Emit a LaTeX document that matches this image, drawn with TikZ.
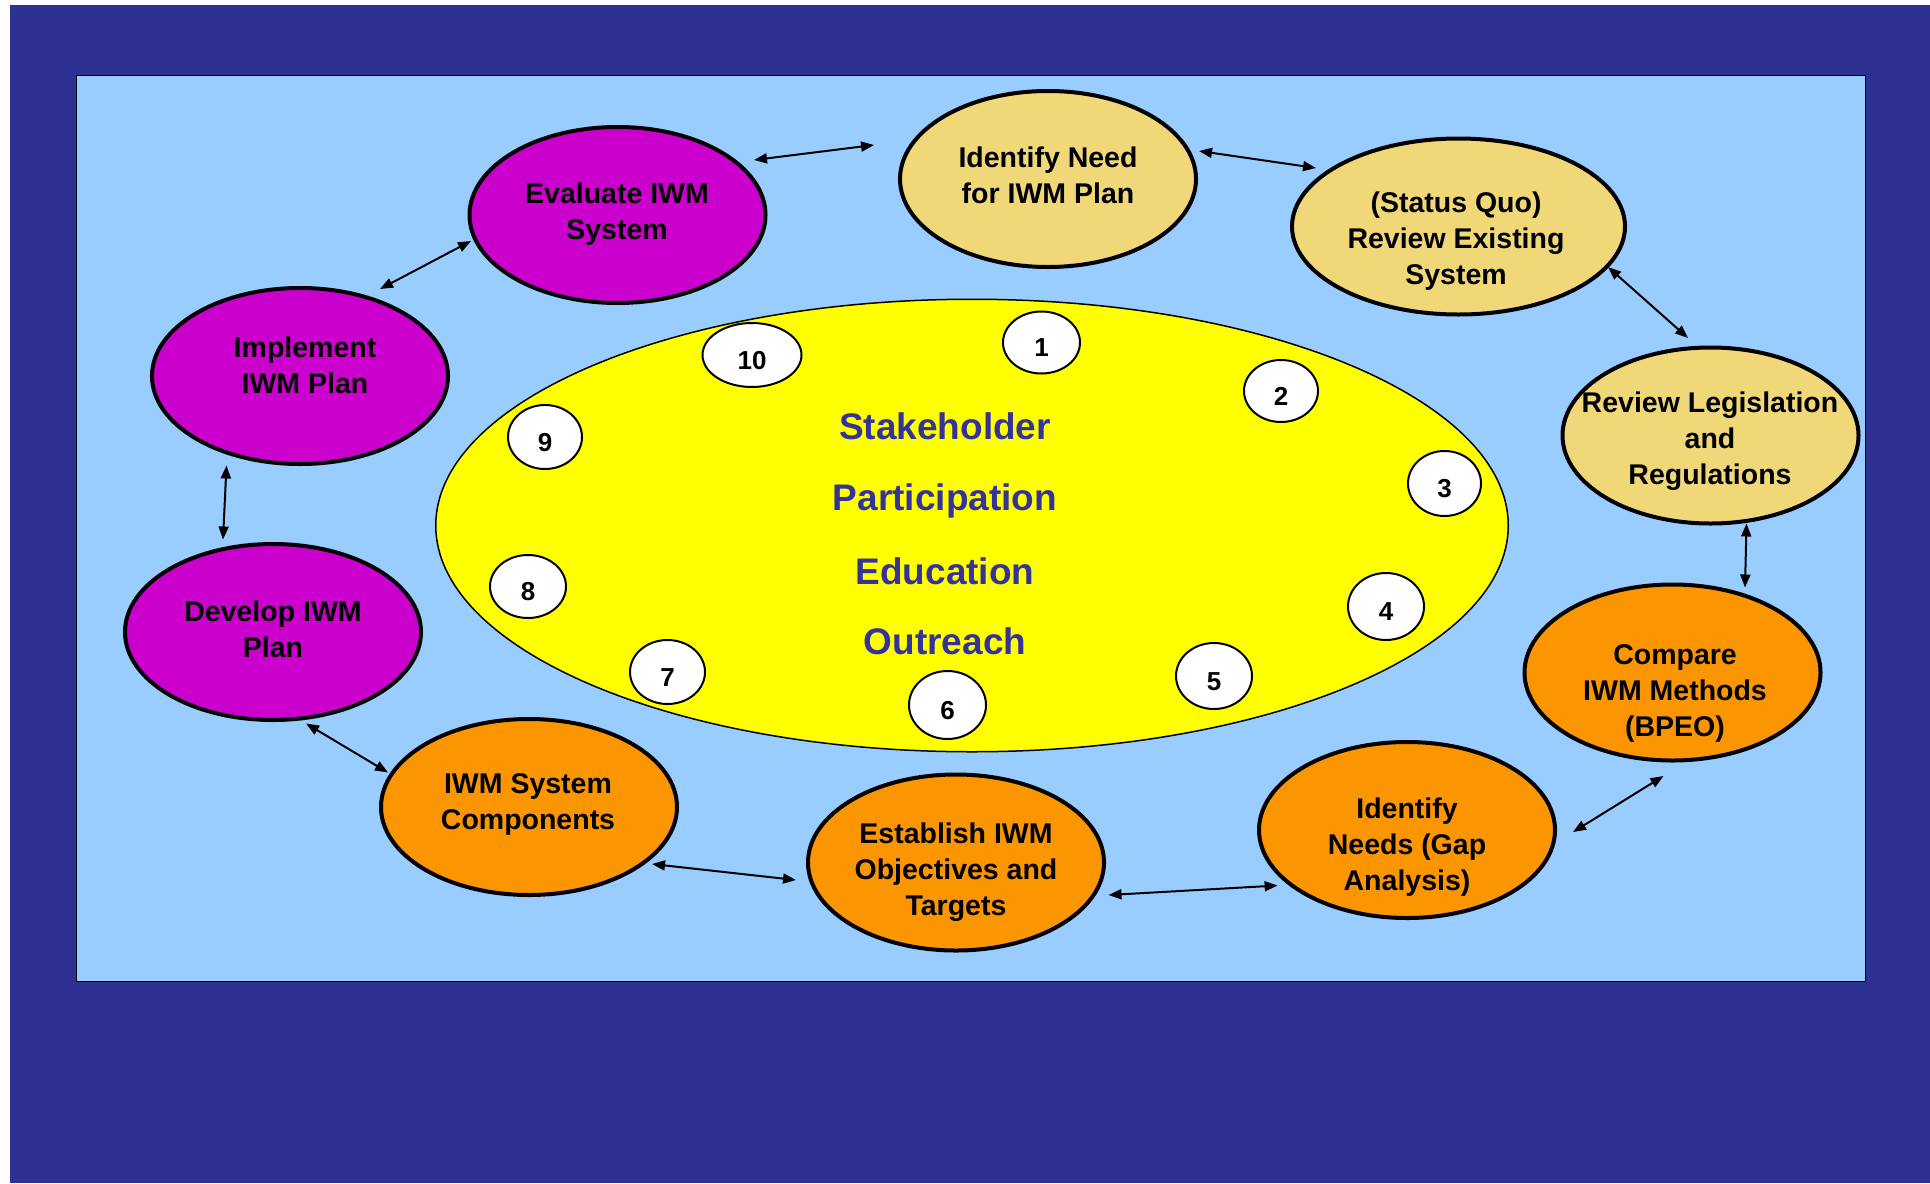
\documentclass[tikz,border=0pt]{standalone}
\usepackage{fontspec}
\setmainfont{Liberation Sans}
\usetikzlibrary{shapes.geometric,arrows.meta}
\definecolor{bgblue}{RGB}{46,49,146}
\definecolor{panelblue}{RGB}{153,204,255}
\definecolor{magen}{RGB}{204,0,204}
\definecolor{tanfill}{RGB}{240,216,120}
\definecolor{orng}{RGB}{252,150,0}
\definecolor{txtblue}{RGB}{51,51,153}
\definecolor{coreyellow}{RGB}{255,255,0}
\begin{document}
\begin{tikzpicture}[x=0.5pt,y=-0.5pt,
  stage/.style={ellipse, draw=black, line width=2pt, inner sep=0pt, minimum width=148pt, minimum height=88pt},
  lbl/.style={align=center, font=\bfseries\fontsize{14.25}{18}\selectfont, inner sep=0pt},
  num/.style={ellipse, draw=black, line width=1pt, fill=white, inner sep=0pt, text height=14pt, text depth=0pt, font=\bfseries\fontsize{13}{13}\selectfont},
  link/.style={{Triangle[length=6.5pt,width=5pt]}-{Triangle[length=6.5pt,width=5pt]}, line width=1pt},
  theme/.style={anchor=base, font=\bfseries\fontsize{18.5}{18.5}\selectfont, text=txtblue, inner sep=0pt}]
\useasboundingbox (0,0) rectangle (1930,1183);
\fill[white] (0,0) rectangle (1930,1183);
\fill[bgblue] (10,5) rectangle (1930,1183);
\draw[fill=panelblue, line width=0.75pt] (76.5,75.5) rectangle (1865.5,981.5);

% central ellipse
\node[ellipse, draw=black, line width=0.75pt, fill=coreyellow, inner sep=0pt,
      minimum width=536.25pt, minimum height=226.25pt] (core) at (972,525.5) {};
\node[theme] (stake) at (945,439) {Stakeholder};
\node[theme] (part)  at (945,510) {Participation};
\node[theme] (edu)   at (945,584) {Education};
\node[theme] (outr)  at (945,654) {Outreach};

% numbered markers
\node[num, minimum width=38.5pt, minimum height=31pt]   (n1)  at (1041.5,342.5) {1};
\node[num, minimum width=37pt,   minimum height=31pt]   (n2)  at (1281,391)     {2};
\node[num, minimum width=36.5pt, minimum height=32.5pt] (n3)  at (1444.5,483.5) {3};
\node[num, minimum width=38pt,   minimum height=33.5pt] (n4)  at (1386,606.5)   {4};
\node[num, minimum width=38pt,   minimum height=33pt]   (n5)  at (1214,676)     {5};
\node[num, minimum width=38.5pt, minimum height=34pt]   (n6)  at (947.5,705)    {6};
\node[num, minimum width=37.5pt, minimum height=32pt]   (n7)  at (667.5,672)    {7};
\node[num, minimum width=38pt,   minimum height=31.5pt] (n8)  at (528,586.5)    {8};
\node[num, minimum width=37pt,   minimum height=32pt]   (n9)  at (545,437)      {9};
\node[num, minimum width=49.5pt, minimum height=32pt]   (n10) at (752,355)      {10};

% stages
\node[stage, fill=tanfill] (need)   at (1048,179) {};
\node[stage, fill=tanfill, minimum width=166.5pt] (status) at (1458.5,226.5) {};
\node[stage, fill=tanfill] (legis)  at (1710.5,435.5) {};
\node[stage, fill=orng]    (compare) at (1672.5,672.5) {};
\node[stage, fill=orng]    (needs)  at (1407,830) {};
\node[stage, fill=orng]    (estab)  at (956,862.5) {};
\node[stage, fill=orng]    (comp)   at (529,807) {};
\node[stage, fill=magen]   (develop) at (273,632) {};
\node[stage, fill=magen]   (impl)   at (300,376) {};
\node[stage, fill=magen]   (eval)   at (617.5,215) {};

\node[lbl] (needT)    at (1048,175) {Identify Need\\for IWM Plan};
\node[lbl] (statusT)  at (1456,241) {(Status Quo)\\Review Existing\\System};
\node[lbl] (legisT)   at (1710,441) {Review Legislation\\and\\Regulations};
\node[lbl] (compareT) at (1675,693) {Compare\\IWM Methods\\(BPEO)};
\node[lbl] (needsT)   at (1407,847) {Identify\\Needs (Gap\\Analysis)};
\node[lbl] (estabT)   at (956,872)  {Establish IWM\\Objectives and\\Targets};
\node[lbl] (compT)    at (528,804)  {IWM System\\Components};
\node[lbl] (developT) at (273,629)  {Develop IWM\\Plan};
\node[lbl] (implT)    at (305,365)  {Implement\\IWM Plan};
\node[lbl] (evalT)    at (617,214)  {Evaluate IWM\\System};

% connector end points
\coordinate (a1s) at (754,160);    \coordinate (a1e) at (874,145);
\coordinate (a2s) at (1199,151);   \coordinate (a2e) at (1316,168);
\coordinate (a3s) at (1608,267);   \coordinate (a3e) at (1688,338);
\coordinate (a4s) at (1746.5,523.5); \coordinate (a4e) at (1745,587.5);
\coordinate (a5s) at (1663.5,776); \coordinate (a5e) at (1573,832);
\coordinate (a6s) at (1277.6,885.5); \coordinate (a6e) at (1108.5,895);
\coordinate (a7s) at (796,880);    \coordinate (a7e) at (652,864);
\coordinate (a8s) at (388,772.5);  \coordinate (a8e) at (306,723.5);
\coordinate (a9s) at (223,539.5);  \coordinate (a9e) at (226.5,465.5);
\coordinate (a10s) at (380,289);   \coordinate (a10e) at (471,241);

\draw[link] (a1s) -- (a1e);
\draw[link] (a2s) -- (a2e);
\draw[link] (a3s) -- (a3e);
\draw[link] (a4s) -- (a4e);
\draw[link] (a5s) -- (a5e);
\draw[link] (a6s) -- (a6e);
\draw[link] (a7s) -- (a7e);
\draw[link] (a8s) -- (a8e);
\draw[link] (a9s) -- (a9e);
\draw[link] (a10s) -- (a10e);
\end{tikzpicture}
\end{document}
